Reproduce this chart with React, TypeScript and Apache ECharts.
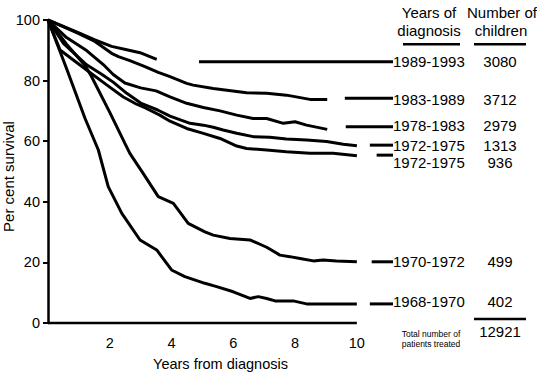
import { useEffect, useRef } from 'react';
import * as echarts from 'echarts';

const FONT = "'Liberation Sans', Arial, Helvetica, sans-serif";

const diagnosisYears = ['1989-1993', '1983-1989', '1978-1983', '1972-1975', '1972-1975', '1970-1972', '1968-1970'];
const childCounts = [3080, 3712, 2979, 1313, 936, 499, 402];

const curve1989 = [[0, 100], [0.98, 95.8], [1.52, 93.4], [2.06, 91.3], [2.55, 90.2], [2.98, 89.2], [3.52, 87.0]];
const curve1983 = [[0, 100], [0.98, 95.6], [1.52, 92.9], [2.06, 89.0], [2.28, 87.9], [2.65, 86.6], [3.14, 84.6], [3.57, 82.7], [3.95, 81.3], [4.49, 79.1], [4.7, 78.5], [5.35, 77.4], [6.43, 76.0], [7.08, 75.8], [7.72, 75.2], [8.48, 73.8], [9.04, 73.8]];
const curve1978 = [[0, 100], [0.6, 94.2], [1.25, 89.9], [1.79, 85.3], [2.11, 82.0], [2.49, 79.2], [3.0, 77.6], [3.5, 76.6], [3.95, 74.6], [4.49, 72.5], [5.03, 71.1], [5.57, 70.0], [6.11, 68.6], [6.64, 67.5], [7.08, 67.5], [7.62, 65.9], [8.0, 66.4], [8.37, 65.3], [9.04, 63.9]];
const curve1972a = [[0, 100], [0.5, 92.3], [1.25, 85.2], [1.75, 82.0], [2.11, 79.5], [2.55, 75.8], [3.0, 72.6], [3.55, 70.3], [3.95, 68.3], [4.6, 65.9], [5.03, 65.3], [5.35, 64.6], [5.67, 63.7], [6.11, 62.6], [6.64, 61.5], [7.18, 61.3], [7.72, 60.7], [8.37, 60.4], [9.02, 59.9], [9.56, 59.0], [10.0, 58.5]];
const curve1972b = [[0, 100], [0.39, 90.1], [1.25, 83.5], [1.9, 78.6], [2.44, 74.6], [2.87, 72.2], [3.19, 70.8], [3.62, 68.6], [3.95, 66.6], [4.49, 64.2], [5.03, 62.6], [5.57, 60.9], [6.11, 58.4], [6.43, 57.6], [7.08, 57.1], [7.72, 56.5], [8.48, 56.0], [9.23, 56.0], [10.0, 55.2]];
const curve1970 = [[0, 100], [0.6, 92.0], [1.2, 85.0], [1.4, 81.5], [2.0, 69.5], [2.49, 59.3], [2.65, 56.0], [3.08, 49.4], [3.57, 41.7], [4.06, 39.5], [4.54, 32.9], [5.08, 30.1], [5.35, 29.0], [5.89, 27.9], [6.54, 27.4], [7.08, 25.0], [7.51, 22.4], [7.83, 21.9], [8.16, 21.3], [8.59, 20.5], [8.91, 20.8], [9.34, 20.5], [10.0, 20.2]];
const curve1968 = [[0, 100], [0.6, 84.0], [1.2, 67.5], [1.63, 57.1], [1.95, 45.0], [2.39, 36.2], [2.98, 27.4], [3.52, 24.1], [4.0, 17.5], [4.43, 15.3], [5.08, 13.1], [5.46, 12.0], [6.0, 10.3], [6.54, 8.1], [6.81, 8.7], [7.08, 8.1], [7.35, 7.3], [7.94, 7.3], [8.37, 6.3], [10.0, 6.3]];

const survivalCurves = [curve1989, curve1983, curve1978, curve1972a, curve1972b, curve1970, curve1968];

const leaderStart = [4.89, 9.61, 9.64, 10.42, 10.64, 10.48, 10.42];
const leaderLevel = [86.2, 74.2, 64.8, 58.7, 55.4, 20.2, 6.3];
const leaderEnd = 11.17;
const labelShift = [0, 1, -1.5, 0, 7, 0, -2];

const xTickLabels = [2, 4, 6, 8, 10];
const xAxisExtent = [0, 10];
const yMin = 0;
const yMax = 100;
const yStep = 20;

export default function App() {
  const ref = useRef<HTMLDivElement>(null);

  useEffect(() => {
    const chart = echarts.init(ref.current!, null, { renderer: 'svg' });
    const black = '#000';
    const lineStyle = { color: black, width: 3 };
    const total = childCounts.reduce((a, b) => a + b, 0);

    const curveSeries = survivalCurves.map((d, i) => ({
      type: 'line',
      name: diagnosisYears[i] + ' (' + childCounts[i] + ')',
      data: d,
      symbol: 'none',
      clip: false,
      lineStyle,
      silent: true,
    }));

    const leaderSeries = leaderStart.map((s, i) => ({
      type: 'line',
      data: [[s, leaderLevel[i]], [leaderEnd, leaderLevel[i]]],
      symbol: 'none',
      clip: false,
      lineStyle,
      silent: true,
      endLabel: {
        show: true,
        distance: 0,
        offset: [0, labelShift[i]],
        formatter: '{a|' + diagnosisYears[i] + '}{b|' + childCounts[i] + '}',
        rich: {
          a: { width: 87, align: 'left', fontSize: 15, fontFamily: FONT, color: black },
          b: { width: 40, align: 'center', fontSize: 15, fontFamily: FONT, color: black },
        },
      },
    }));

    const baselineSeries = {
      type: 'line',
      data: [[xAxisExtent[0], 0], [xAxisExtent[1], 0]],
      symbol: 'none',
      clip: false,
      lineStyle: { color: black, width: 2.5 },
      silent: true,
    };

    const txt = (text: string, x: number, y: number, size: number) => ({
      type: 'text',
      x,
      y,
      style: { text, fill: black, fontSize: size, fontFamily: FONT, align: 'center', verticalAlign: 'middle' },
      silent: true,
    });
    const hline = (x1: number, x2: number, y: number) => ({
      type: 'line',
      shape: { x1, y1: y, x2, y2: y },
      style: { stroke: black, lineWidth: 2.5 },
      silent: true,
    });

    chart.setOption({
      animation: false,
      backgroundColor: '#fff',
      textStyle: { fontFamily: FONT, color: black },
      grid: { left: 48, right: 144, top: 20, bottom: 61, containLabel: false, outerBoundsMode: 'none' },
      xAxis: {
        type: 'value',
        min: 0,
        max: leaderEnd,
        interval: 2,
        axisLine: { show: false },
        axisTick: { show: false },
        splitLine: { show: false },
        axisLabel: {
          color: black,
          fontSize: 14.5,
          fontFamily: FONT,
          margin: 12,
          formatter: (v: number) => (xTickLabels.some((t) => Math.abs(t - v) < 1e-6) ? String(Math.round(v)) : ''),
        },
        name: 'Years from diagnosis',
        nameLocation: 'middle',
        nameGap: 33,
        nameMoveOverlap: false,
        nameTextStyle: { color: black, fontSize: 14.5, fontFamily: FONT },
      },
      yAxis: {
        type: 'value',
        min: yMin,
        max: yMax,
        interval: yStep,
        axisLine: { show: true, lineStyle: { color: black, width: 2.5 } },
        axisTick: { show: true, inside: false, length: 5, lineStyle: { color: black, width: 2 } },
        splitLine: { show: false },
        axisLabel: { color: black, fontSize: 14.5, fontFamily: FONT, margin: 8, padding: [0, 0, 4, 0] },
        name: 'Per cent survival',
        nameLocation: 'middle',
        nameGap: 32,
        nameMoveOverlap: false,
        nameTextStyle: { color: black, fontSize: 15, fontFamily: FONT, padding: [0, 10, 0, 0] },
      },
      graphic: [
        txt('Years of', 429, 12.7, 15),
        txt('diagnosis', 429, 30, 15),
        txt('Number of', 502, 12.7, 15),
        txt('children', 501, 30, 15),
        hline(403, 460, 44.3),
        hline(474, 526, 44.3),
        hline(474, 526, 319),
        txt(String(total), 500, 331, 15),
        txt('Total number of', 431, 334, 8.5),
        txt('patients treated', 431, 343.5, 8.5),
      ],
      series: [baselineSeries, ...curveSeries, ...leaderSeries],
    });

    return () => chart.dispose();
  }, []);

  return <div ref={ref} style={{ position: 'fixed', left: 0, top: 0, width: 537, height: 384, background: '#fff' }} />;
}
